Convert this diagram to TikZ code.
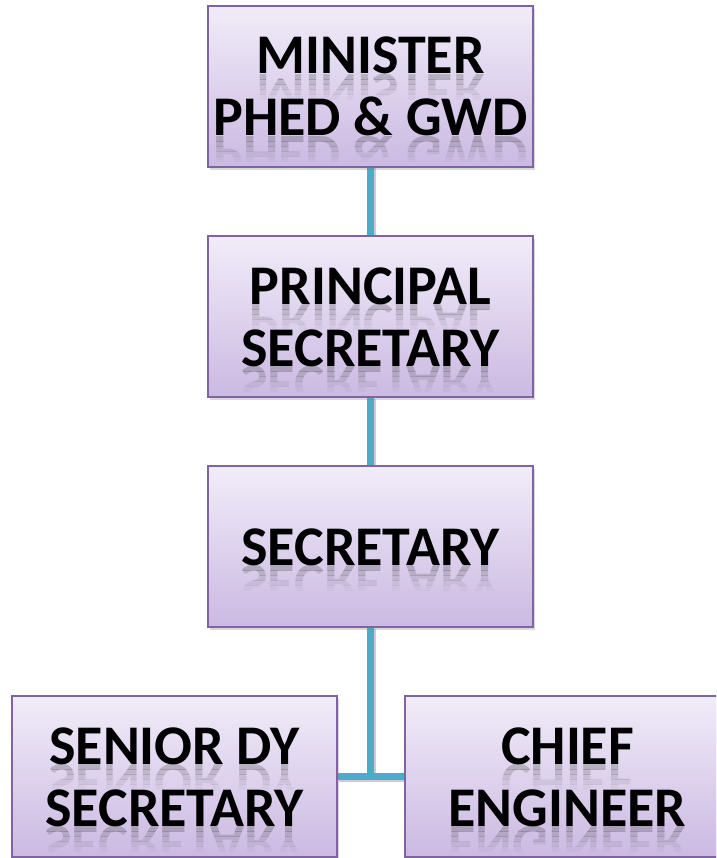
\documentclass[tikz,border=0pt]{standalone}
\usepackage{fontspec}
\setmainfont{Carlito}
\usetikzlibrary{shadows,backgrounds}
\definecolor{cf1ecf9}{RGB}{241,236,249}
\definecolor{ccbb9e2}{RGB}{203,185,226}
\definecolor{c8064a2}{RGB}{128,100,162}
\definecolor{c4bacc6}{RGB}{75,172,198}
\def \postfont {\bfseries\fontsize{56}{62}\selectfont}

\tikzset{
  post/.style={draw=c8064a2, line width=2pt, top color=cf1ecf9, bottom color=ccbb9e2,
    minimum width=325pt, minimum height=161pt, align=center, font=\postfont,
    drop shadow={opacity=0.3, shadow xshift=2pt, shadow yshift=-3pt}},
  link/.style={draw=c4bacc6, line width=7pt,
    preaction={draw=black, line width=7pt, opacity=0.2, transform canvas={xshift=1.5pt, yshift=-1.5pt}}},
  mirror/.style={yscale=-1, anchor=base, font=\postfont, text=black!80},
}

% faded reflection of one text line: name, x, baseline, text
\newcommand\mirrorline[4]{%
  \foreach \k/\op in {0/0.24,1/0.18,2/0.13,3/0.08,4/0.04}{
    \begin{scope}
      \clip (#2-170, #3-1-5*\k) rectangle (#2+170, #3-1-5*\k-5);
      \node[mirror, text opacity=\op] (#1-\k) at (#2, #3-1) {#4};
    \end{scope}
  }}

\begin{document}
\begin{tikzpicture}[y=1pt, x=1pt, inner sep=0pt, outer sep=0pt]
  \clip (0, 0) rectangle (716, 858);

  \node[post] (minister) at (370.5, 771.5) {MINISTER\\PHED \& GWD};
  \node[post] (principal) at (370.5, 541) {PRINCIPAL\\SECRETARY};
  \node[post] (secretary) at (370.5, 311) {SECRETARY};
  \node[post] (seniordy) at (174.5, 81) {SENIOR DY\\SECRETARY};
  \node[post] (chief) at (567.5, 81) {CHIEF\\ENGINEER};

  \mirrorline{rminister1}{370.5}{784.5}{MINISTER}
  \mirrorline{rminister2}{370.5}{722.5}{PHED \& GWD}
  \mirrorline{rprincipal1}{370.5}{554}{PRINCIPAL}
  \mirrorline{rprincipal2}{370.5}{492}{SECRETARY}
  \mirrorline{rsecretary}{370.5}{293}{SECRETARY}
  \mirrorline{rseniordy1}{174.5}{94}{SENIOR DY}
  \mirrorline{rseniordy2}{174.5}{32}{SECRETARY}
  \mirrorline{rchief1}{567.5}{94}{CHIEF}
  \mirrorline{rchief2}{567.5}{32}{ENGINEER}

  \coordinate (junction) at (370.5, 81);

  \begin{pgfonlayer}{background}
    \draw[link] (minister) -- (principal);
    \draw[link] (principal) -- (secretary);
    \draw[link] (secretary) -- (junction);
    \draw[link] (seniordy.east |- junction) -- (chief.west |- junction);
  \end{pgfonlayer}
\end{tikzpicture}
\end{document}
